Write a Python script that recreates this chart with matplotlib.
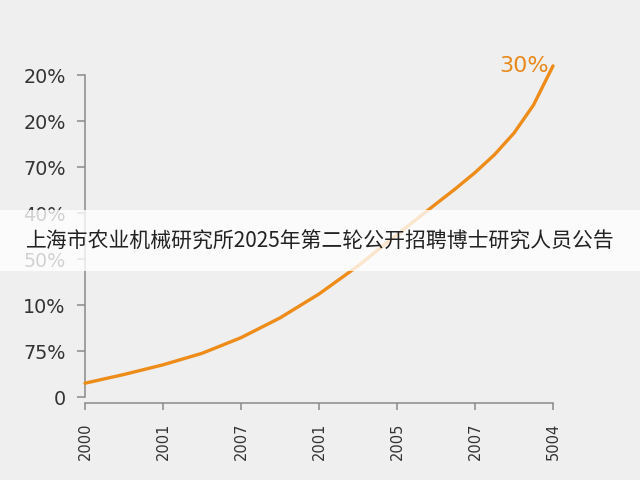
import matplotlib
matplotlib.use("Agg")
import matplotlib.pyplot as plt
from matplotlib.patches import Rectangle

# 横轴刻度标签 (按图中原样)
x_labels = ["2000", "2001", "2007", "2001", "2005", "2007", "5004"]
# 纵轴刻度标签 (自下而上)
y_labels = ["0", "75%", "10%", "50%", "40%", "70%", "20%", "20%"]
# 曲线取值 (半个刻度读一次, 末端四分之一刻度读一次)
curve_x = [0, 0.5, 1, 1.5, 2, 2.5, 3, 3.5, 4, 4.5, 4.75, 5, 5.25, 5.5, 5.75, 6]
curve_y = [0.30, 0.49, 0.70, 0.95, 1.29, 1.72, 2.24, 2.85, 3.53, 4.20, 4.53,
           4.88, 5.27, 5.74, 6.35, 7.20]
end_label = "30%"
banner = "上海市农业机械研究所2025年第二轮公开招聘博士研究人员公告"

bg = "#efefef"
orange = "#ee8c1a"
gray = "#8a8a8a"

fig = plt.figure(figsize=(6.4, 4.8), dpi=100, facecolor=bg)
ax = fig.add_axes([0.1328, 0.1729, 0.7313, 0.709])
ax.set_facecolor(bg)

ax.plot(curve_x, curve_y, color=orange, linewidth=2.4, solid_capstyle="round",
        solid_joinstyle="round", clip_on=False, zorder=3)
ax.annotate(end_label, xy=(curve_x[-1], curve_y[-1]), xytext=(-4, -6),
            textcoords="offset pixels", ha="right", va="baseline",
            fontsize=16, color="#e8891c")

ax.set_xlim(0, 6)
ax.set_ylim(0, 7.4)
ax.set_xticks(range(len(x_labels)))
ax.set_xticklabels(x_labels)
ax.set_yticks(range(len(y_labels)))
ax.set_yticklabels(y_labels)

for s in ["top", "right"]:
    ax.spines[s].set_visible(False)
ax.spines["left"].set_bounds(0, 7)
ax.spines["bottom"].set_bounds(0, 6)
ax.spines["bottom"].set_position(("outward", 4.5))
for s in ["left", "bottom"]:
    ax.spines[s].set_color(gray)
    ax.spines[s].set_linewidth(1.1)

ax.tick_params(axis="y", length=6, width=1.1, color=gray, pad=8,
               labelsize=13.8, labelcolor="#333333")
ax.tick_params(axis="x", length=5, width=1.1, color=gray, pad=9,
               labelsize=10.5, labelcolor="#333333", labelrotation=90)

# 中间的半透明横幅
fig.patches.append(Rectangle((0, 0.435), 1, 0.127, transform=fig.transFigure,
                             facecolor="white", alpha=0.78, edgecolor="none",
                             zorder=10))
fig.text(0.5, 0.496, banner, ha="center", va="center", fontsize=15,
         color="#222222", family=["Noto Sans CJK SC", "DejaVu Sans"], zorder=11)

fig.savefig("out.png", dpi=100, facecolor=bg)
